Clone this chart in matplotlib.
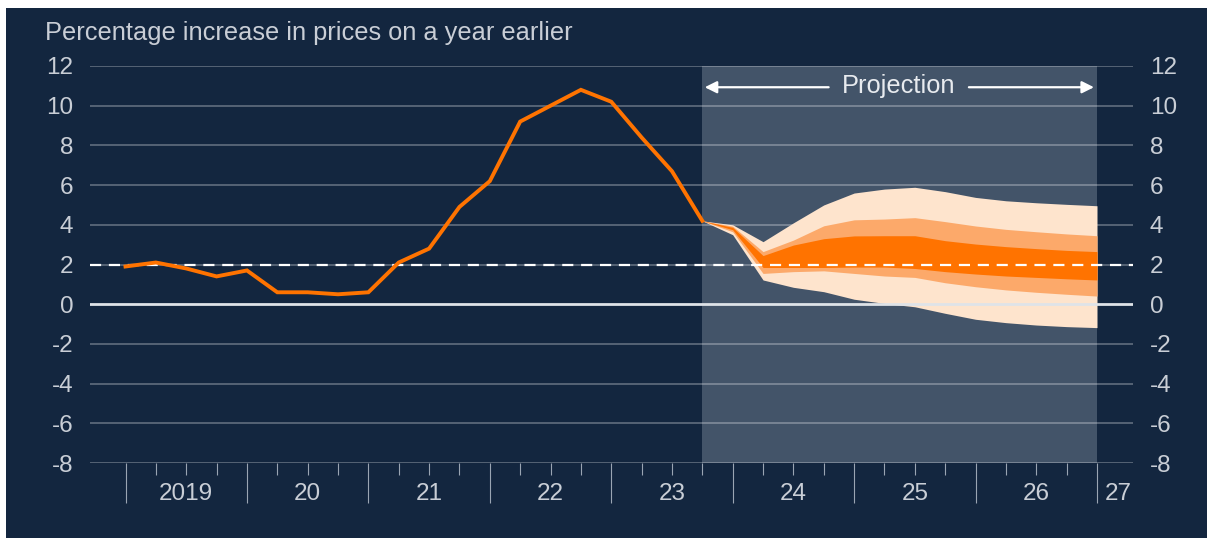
import matplotlib
matplotlib.use('Agg')
import matplotlib.pyplot as plt
import matplotlib.transforms as mtransforms
from matplotlib.patches import Rectangle
import numpy as np

plt.rcParams['font.family'] = ['Liberation Sans', 'DejaVu Sans']
plt.rcParams['axes.unicode_minus'] = False

# ---------------- data ----------------
hist_start = 2019.0
hist_values = [1.9, 2.1, 1.8, 1.4, 1.7, 0.6, 0.6, 0.5, 0.6, 2.1,
               2.8, 4.9, 6.2, 9.2, 10.0, 10.8, 10.2, 8.4, 6.7, 4.2]
proj_start = 2023.75
outer_hi = [4.2, 4.0, 3.15, 4.1, 5.0, 5.6, 5.8, 5.89, 5.67, 5.38, 5.21, 5.11, 5.03, 4.96]
mid_hi   = [4.2, 3.93, 2.65, 3.23, 3.95, 4.25, 4.29, 4.36, 4.16, 3.94, 3.77, 3.65, 3.54, 3.45]
in_hi    = [4.2, 3.87, 2.45, 2.98, 3.3, 3.44, 3.45, 3.45, 3.2, 3.03, 2.9, 2.8, 2.71, 2.65]
in_lo    = [4.2, 3.75, 1.85, 1.85, 1.85, 1.87, 1.87, 1.8, 1.64, 1.52, 1.42, 1.35, 1.28, 1.22]
mid_lo   = [4.2, 3.65, 1.55, 1.64, 1.68, 1.55, 1.42, 1.35, 1.08, 0.88, 0.72, 0.6, 0.5, 0.41]
outer_lo = [4.2, 3.5, 1.22, 0.85, 0.63, 0.25, 0.04, -0.13, -0.46, -0.76, -0.93, -1.05, -1.13, -1.18]
year_starts = [2019, 2020, 2021, 2022, 2023, 2024, 2025, 2026, 2027]
year_labels = ['2019', '20', '21', '22', '23', '24', '25', '26', '27']
y_ticks = [-8, -6, -4, -2, 0, 2, 4, 6, 8, 10, 12]
target = 2.0
title = 'Percentage increase in prices on a year earlier'
proj_label = 'Projection'

# ---------------- style ----------------
navy = '#13263f'
shade = '#435469'
light = '#fee4cd'
medium = '#fca96a'
dark = '#ff7300'
txt = '#c9ced6'
tick_fs = 17.5
big_fs = 18.3

W, H = 1207, 538
fig = plt.figure(figsize=(W / 100, H / 100), dpi=100, facecolor='white')
fig.patches.append(Rectangle((6 / W, 0), 1 - 6 / W, 1 - 8 / H, transform=fig.transFigure,
                             facecolor=navy, edgecolor='none', zorder=-10))

left, right, top, bottom = 90, 1133, 66, 463
ax = fig.add_axes([left / W, 1 - bottom / H, (right - left) / W, (bottom - top) / H])
ax.set_facecolor(navy)
for s in ax.spines.values():
    s.set_visible(False)

px_per_year = (1097 - 125.5) / 8
ax.set_xlim(2019 - (125.5 - left) / px_per_year, 2027 + (right - 1097) / px_per_year)
ax.set_ylim(y_ticks[0], y_ticks[-1])

hist_x = hist_start + 0.25 * np.arange(len(hist_values))
proj_x = proj_start + 0.25 * np.arange(len(outer_hi))

# projection shading
ax.axvspan(proj_start, proj_x[-1], color=shade, zorder=0, lw=0)

# gridlines
for yv in y_ticks:
    if yv == 0:
        continue
    ax.axhline(yv, color='white', alpha=0.3, lw=1.3, zorder=1)

# fan
ax.fill_between(proj_x, outer_lo, outer_hi, color=light, lw=0, zorder=2)
ax.fill_between(proj_x, mid_lo, mid_hi, color=medium, lw=0, zorder=3)
ax.fill_between(proj_x, in_lo, in_hi, color=dark, lw=0, zorder=4)

# zero line and target
ax.axhline(0, color='#dfe3e8', lw=2.0, zorder=5)
ax.axhline(target, color='white', lw=1.6, ls=(0, (5, 3.5)), zorder=6)

# history line
ax.plot(hist_x, hist_values, color=dark, lw=2.8, solid_joinstyle='miter', zorder=7)

# y ticks both sides
ax.set_yticks(y_ticks)
ax.set_yticklabels([str(v) for v in y_ticks])
ax.tick_params(axis='y', length=0, pad=12, labelsize=tick_fs, labelcolor=txt,
               labelleft=True, labelright=True)

# x ticks
ax.set_xticks(year_starts)
ax.set_xticklabels([])
ax.set_xticks([y + q * 0.25 for y in year_starts[:-1] for q in (1, 2, 3)], minor=True)
ax.tick_params(axis='x', which='major', length=29, width=0.8, color='#9aa5b3', direction='out')
ax.tick_params(axis='x', which='minor', length=8.5, width=0.8, color='#9aa5b3', direction='out')

trans = mtransforms.blended_transform_factory(ax.transData, ax.transAxes)
for ys, lab in zip(year_starts, year_labels):
    if lab == '27':
        ax.text(ys + 0.065, -0.078, lab, transform=trans, ha='left', va='center',
                fontsize=tick_fs, color=txt)
    else:
        ax.text(ys + 0.5, -0.078, lab, transform=trans, ha='center', va='center',
                fontsize=tick_fs, color=txt)

# title
fig.text(45 / W, 1 - 33 / H, title, ha='left', va='center', fontsize=big_fs, color=txt)

# projection arrow + label
arrow_y = 10.93
mid_x = (proj_start + proj_x[-1]) / 2
ax.text(mid_x - 0.01, 11.0, proj_label, ha='center', va='center', fontsize=big_fs,
        color='#e8ebef', zorder=8)
ax.annotate('', xy=(proj_start + 0.02, arrow_y), xytext=(proj_start + 1.04, arrow_y),
            arrowprops=dict(arrowstyle='-|>', color='white', lw=1.6, mutation_scale=18,
                            shrinkA=0, shrinkB=0), zorder=8)
ax.annotate('', xy=(proj_x[-1] - 0.025, arrow_y), xytext=(proj_start + 2.195, arrow_y),
            arrowprops=dict(arrowstyle='-|>', color='white', lw=1.6, mutation_scale=18,
                            shrinkA=0, shrinkB=0), zorder=8)

fig.savefig('out.png', dpi=100, facecolor='white')
